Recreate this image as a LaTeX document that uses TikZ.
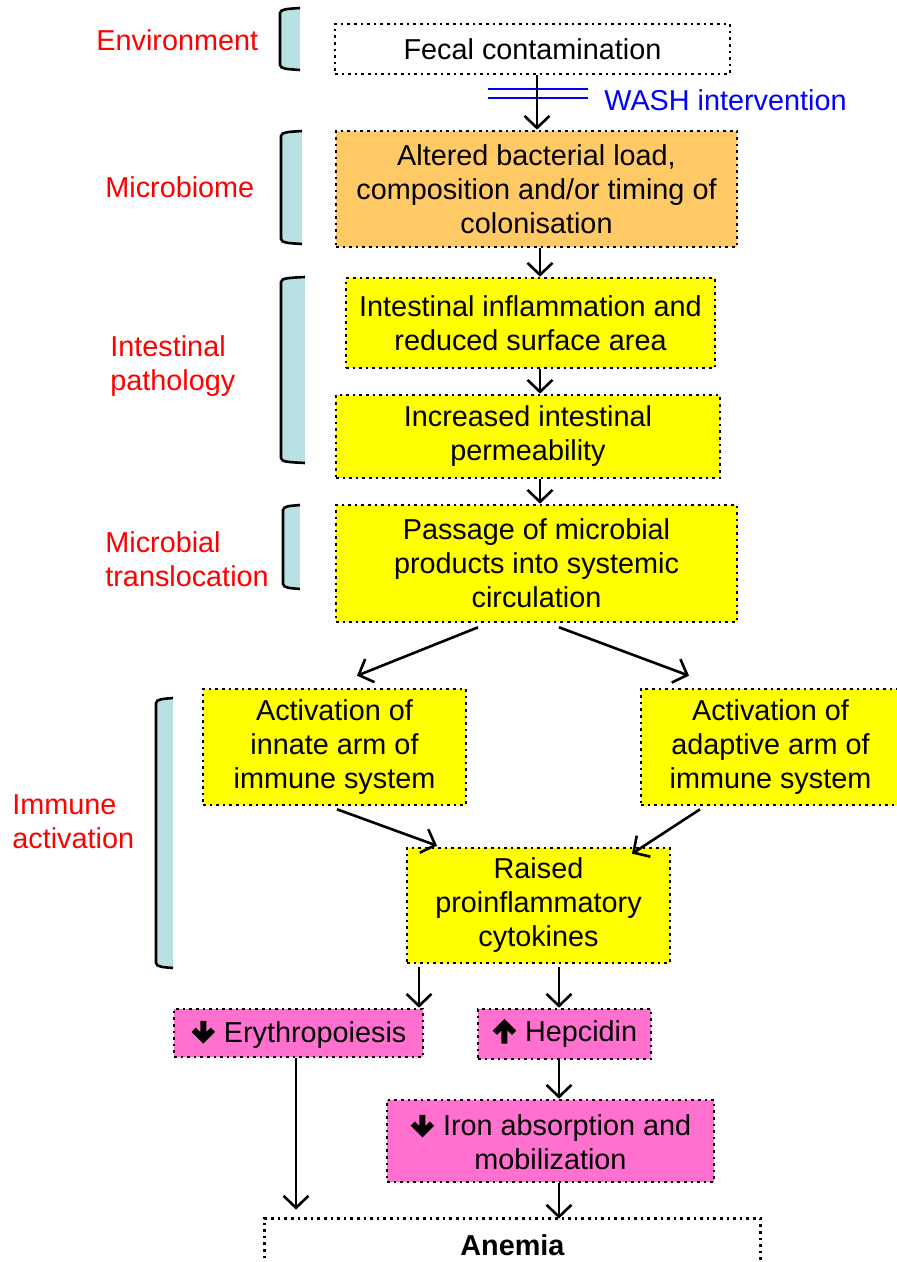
\documentclass[tikz,border=0pt]{standalone}
\usepackage{fontspec}
\setmainfont{Liberation Sans}
\usetikzlibrary{arrows.meta,calc}
\definecolor{bfill}{HTML}{B9E0E3}
\definecolor{orfill}{HTML}{FFC966}
\definecolor{yefill}{HTML}{FFFF00}
\definecolor{pkfill}{HTML}{FF70CF}
\definecolor{lblred}{HTML}{FF0000}
\definecolor{washblue}{HTML}{0000FF}
\newcommand\dnarr{\tikz[x=1pt,y=1pt,baseline=0pt]{\draw[solid,black,line width=3pt,line cap=butt,line join=miter] (0,10.6) -- (0,2) (-4.8,6.2) -- (0,1.4) -- (4.8,6.2);}}
\newcommand\uparr{\tikz[x=1pt,y=1pt,baseline=0pt]{\draw[solid,black,line width=3pt,line cap=butt,line join=miter] (0,-0.8) -- (0,8.5) (-4.8,4.6) -- (0,9.4) -- (4.8,4.6);}}
\newcommand\mybracket[4]{%
  \fill[bfill] (#1,#2) rectangle (#3,#4);
  \draw[black,line width=1.3pt] (#3,{#2-1}) .. controls ({#1+6},#2) and ({#1+1},#2) .. (#1,{#2+4}) -- (#1,{#4-4}) .. controls ({#1+1},#4) and ({#1+6},#4) .. (#3,{#4+1});
}
\begin{document}
\begin{tikzpicture}[x=0.5pt,y=-0.5pt,
  txt/.style={font=\fontsize{14.4pt}{17pt}\selectfont},
  dotline/.style={draw=black, line width=1.3pt, dash pattern=on 1.3pt off 2pt, line cap=butt},
  box/.style={txt, dotline, inner sep=0pt, align=center},
  lab/.style={txt, text=lblred, align=left, inner sep=0pt, anchor=west},
  arr/.style={black, line width=1.3pt, -{Straight Barb[length=6pt,width=12.5pt]}}]
\useasboundingbox (0,0) rectangle (897,1262);
\fill[white] (0,0) rectangle (897,1262);

% brackets
\mybracket{280}{9}{300}{69}
\mybracket{281}{132}{302}{243}
\mybracket{281}{278}{305}{462}
\mybracket{283}{506}{300}{588}
\mybracket{156}{699}{173}{967}

% category labels
\node[lab] (lenv) at (96,40) {Environment};
\node[lab] (lmic) at (105,187) {Microbiome};
\node[lab] (lint) at (110,366) {Intestinal\\pathology};
\node[lab] (ltra) at (105,559) {Microbial\\translocation};
\node[lab] (limm) at (12,822) {Immune\\activation};

% boxes
\node[box, fill=white, minimum width=197.5pt, minimum height=25pt] (fecal) at (532.5,49) {Fecal contamination};
\node[box, fill=orfill, minimum width=200.5pt, minimum height=58pt] (altered) at (536.5,189) {Altered bacterial load,\\composition and/or timing of\\colonisation};
\node[box, fill=yefill, minimum width=184.5pt, minimum height=45pt] (inflam) at (530.5,323) {Intestinal inflammation and\\reduced surface area};
\node[box, fill=yefill, minimum width=192pt, minimum height=41.5pt] (perm) at (528,436.5) {Increased intestinal\\permeability};
\node[box, fill=yefill, minimum width=200.5pt, minimum height=58.5pt] (passage) at (536.5,563.5) {Passage of microbial\\products into systemic\\circulation};
\node[box, fill=yefill, minimum width=131.5pt, minimum height=58pt] (innate) at (334.5,747) {Activation of\\innate arm of\\immune system};
\node[box, fill=yefill, minimum width=129.5pt, minimum height=58pt] (adaptive) at (770.5,747) {Activation of\\adaptive arm of\\immune system};
\node[box, fill=yefill, minimum width=131.5pt, minimum height=57.5pt] (raised) at (538.5,905.5) {Raised\\proinflammatory\\cytokines};
\node[box, fill=pkfill, minimum width=124.5pt, minimum height=24pt] (eryth) at (298.5,1033) {\dnarr\ Erythropoiesis};
\node[box, fill=pkfill, minimum width=86.5pt, minimum height=25pt] (hepc) at (564.5,1034) {\uparr\ Hepcidin};
\node[box, fill=pkfill, minimum width=163.5pt, minimum height=41pt] (iron) at (550.5,1141) {\dnarr\ Iron absorption and\\mobilization};
\node[txt, inner sep=0pt, minimum width=247.5pt, minimum height=26pt] (anemia) at (512.5,1245) {\textbf{Anemia}};
\draw[dotline] (anemia.south west) -- (anemia.north west) -- (anemia.north east) -- (anemia.south east);

% WASH intervention
\draw[washblue, line width=1pt] (488,89) -- (588,89) (488,98) -- (588,98);
\node[txt, text=washblue, anchor=west, inner sep=0pt] (wash) at (604,100) {WASH intervention};

% helper x positions
\coordinate (c537) at (537,0);
\coordinate (c540) at (540,0);
\coordinate (c419) at (419,0);
\coordinate (c559) at (559,0);
\coordinate (c296) at (296,0);

% connectors
\draw[arr] (fecal.south -| c537) -- (altered.north -| c537);
\draw[arr] (altered.south -| c540) -- (inflam.north -| c540);
\draw[arr] (inflam.south -| c540) -- (perm.north -| c540);
\draw[arr] (perm.south -| c540) -- (passage.north -| c540);
\draw[arr] ($(passage.south)+(-58.5,4)$) -- ($(innate.north)+(22.5,-12)$);
\draw[arr] ($(passage.south)+(22.5,4)$) -- ($(adaptive.north)+(-81.5,-12)$);
\draw[arr] ($(innate.south)+(2.5,3)$) -- ($(raised.north)+(-101.5,-1)$);
\draw[arr] ($(adaptive.south)+(-70.5,3)$) -- ($(raised.north)+(93.5,7)$);
\draw[arr, shorten <=1.5pt] (raised.south -| c419) -- (eryth.north -| c419);
\draw[arr, shorten <=1.5pt] (raised.south -| c559) -- (hepc.north -| c559);
\draw[arr] (hepc.south -| c559) -- (iron.north -| c559);
\draw[arr] (iron.south -| c559) -- (anemia.north -| c559);
\draw[arr, shorten >=4.5pt] (eryth.south -| c296) -- (anemia.north -| c296);
\end{tikzpicture}
\end{document}
